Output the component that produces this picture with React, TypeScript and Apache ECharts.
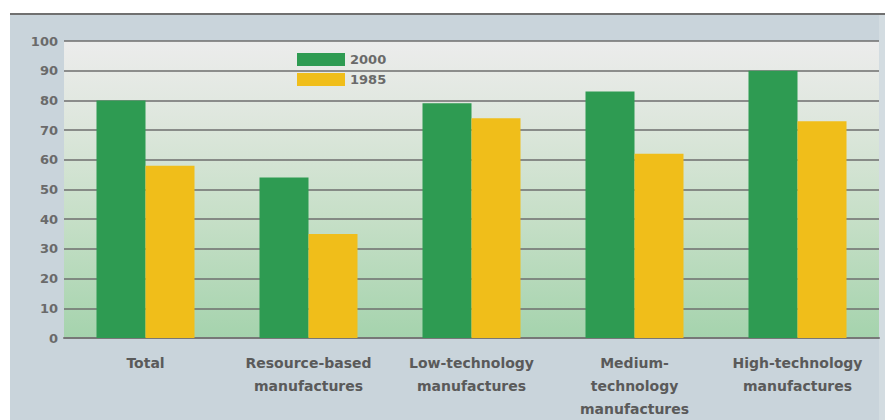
import React, { useEffect, useRef } from "react";
import * as echarts from "echarts";

const categories = [
  "Total",
  "Resource-based\nmanufactures",
  "Low-technology\nmanufactures",
  "Medium-\ntechnology\nmanufactures",
  "High-technology\nmanufactures",
];
const series2000 = [80, 54, 79, 83, 90];
const series1985 = [58, 35, 74, 62, 73];
const seriesNames = ["2000", "1985"];
const yTicks = { min: 0, max: 100, interval: 10 };

const FONT = "DejaVu Sans";

export default function App() {
  const ref = useRef<HTMLDivElement>(null);
  useEffect(() => {
    if (!ref.current) return;
    const chart = echarts.init(ref.current, null, { renderer: "svg" });
    chart.setOption({
      animation: false,
      backgroundColor: "#ffffff",
      graphic: [
        {
          type: "rect",
          z: -10,
          silent: true,
          shape: { x: 10, y: 14, width: 875, height: 406 },
          style: { fill: "#c9d4db" },
        },
        {
          type: "rect",
          z: -9,
          silent: true,
          shape: { x: 879, y: 15, width: 6, height: 405 },
          style: { fill: "#d3dce1" },
        },
        {
          type: "line",
          z: -8,
          silent: true,
          shape: { x1: 10, y1: 14, x2: 885, y2: 14 },
          style: { stroke: "#707070", lineWidth: 2 },
        },
      ],
      legend: {
        show: true,
        orient: "vertical",
        left: 297,
        top: 53,
        padding: 0,
        itemWidth: 48,
        itemHeight: 13,
        itemGap: 7,
        icon: "rect",
        data: seriesNames,
        textStyle: { fontFamily: FONT, fontWeight: "bold", fontSize: 13, color: "#6a6a6a" },
      },
      grid: {
        left: 64,
        right: 6,
        top: 41,
        bottom: 82,
        show: true,
        borderWidth: 0,
        backgroundColor: new echarts.graphic.LinearGradient(0, 0, 0, 1, [
          { offset: 0, color: "#ececec" },
          { offset: 0.25, color: "#dfe7de" },
          { offset: 0.6, color: "#c6dfc7" },
          { offset: 1, color: "#a5d3ad" },
        ]),
      },
      xAxis: {
        type: "category",
        data: categories,
        axisLine: { show: true, lineStyle: { color: "#777777", width: 2 } },
        axisTick: { show: false },
        axisLabel: {
          interval: 0,
          margin: 13,
          fontFamily: FONT,
          fontWeight: "bold",
          fontSize: 14,
          lineHeight: 23,
          color: "#5a5a5a",
        },
      },
      yAxis: {
        type: "value",
        min: yTicks.min,
        max: yTicks.max,
        interval: yTicks.interval,
        axisLine: { show: false },
        axisTick: { show: false },
        splitLine: { show: true, lineStyle: { color: "#6e6e6e", width: 1.5 } },
        axisLabel: {
          margin: 6,
          fontFamily: FONT,
          fontWeight: "bold",
          fontSize: 13,
          color: "#6a6a6a",
        },
      },
      series: [
        {
          name: seriesNames[0],
          type: "bar",
          data: series2000,
          barWidth: 49,
          barGap: "0%",
          itemStyle: { color: "#2e9b52" },
        },
        {
          name: seriesNames[1],
          type: "bar",
          data: series1985,
          barWidth: 49,
          barGap: "0%",
          itemStyle: { color: "#f0be1a" },
        },
      ],
    });
    return () => chart.dispose();
  }, []);
  return (
    <div
      ref={ref}
      style={{ position: "absolute", left: 0, top: 0, width: 885, height: 420 }}
    />
  );
}
